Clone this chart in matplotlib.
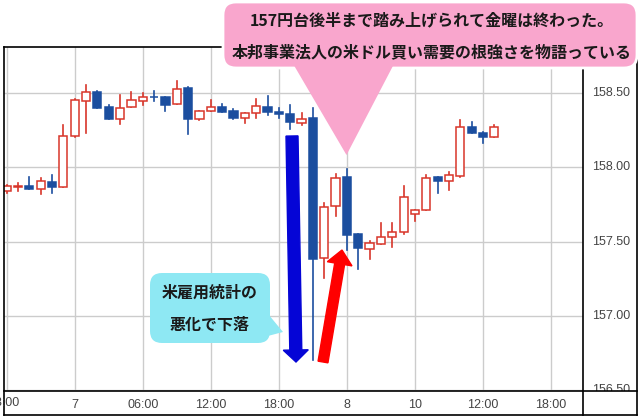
import matplotlib
matplotlib.use('Agg')
import matplotlib.pyplot as plt
from matplotlib.patches import Rectangle, FancyBboxPatch, Polygon, FancyArrow
from matplotlib.lines import Line2D
from matplotlib.transforms import Affine2D, Bbox, TransformedBbox, blended_transform_factory

plt.rcParams['font.family'] = ['Liberation Sans', 'Noto Sans CJK JP', 'DejaVu Sans']

# ---- data (hourly candles) ----
opens = [157.838, 157.868, 157.876, 157.856, 157.899, 157.869, 158.209, 158.449, 158.507, 158.404,
         158.323, 158.404, 158.449, 158.477, 158.472, 158.425, 158.536, 158.327, 158.381, 158.404,
         158.379, 158.330, 158.364, 158.408, 158.373, 158.359, 158.301, 158.330, 157.387, 157.739,
         157.933, 157.551, 157.447, 157.481, 157.532, 157.562, 157.683, 157.712, 157.933, 157.908,
         157.945, 158.270, 158.229, 158.202]
highs = [157.881, 157.892, 157.933, 157.926, 157.948, 158.285, 158.460, 158.555, 158.512, 158.422,
         158.487, 158.505, 158.499, 158.514, 158.472, 158.582, 158.543, 158.379, 158.457, 158.427,
         158.391, 158.364, 158.458, 158.480, 158.398, 158.420, 158.364, 158.398, 157.761, 157.955,
         157.992, 157.551, 157.505, 157.627, 157.623, 157.874, 157.712, 157.948, 157.933, 157.968,
         158.319, 158.303, 158.240, 158.285]
lows = [157.827, 157.842, 157.856, 157.820, 157.829, 157.869, 158.205, 158.233, 158.400, 158.325,
        158.292, 158.404, 158.420, 158.449, 158.381, 158.425, 158.222, 158.319, 158.381, 158.375,
        158.323, 158.296, 158.330, 158.352, 158.330, 158.258, 158.285, 156.701, 157.252, 157.675,
        157.443, 157.313, 157.380, 157.481, 157.461, 157.551, 157.638, 157.712, 157.829, 157.847,
        157.937, 158.229, 158.162, 158.202]
closes = [157.874, 157.872, 157.856, 157.906, 157.867, 158.209, 158.454, 158.505, 158.402, 158.327,
          158.398, 158.454, 158.472, 158.472, 158.422, 158.526, 158.327, 158.379, 158.410, 158.375,
          158.330, 158.364, 158.413, 158.375, 158.357, 158.305, 158.325, 157.382, 157.734, 157.925,
          157.547, 157.454, 157.488, 157.532, 157.562, 157.798, 157.712, 157.926, 157.910, 157.946,
          158.270, 158.229, 158.202, 158.270]

tick_pos = [0, 6, 12, 18, 24, 30, 36, 42, 48]
tick_labels = ['18:00', '7', '06:00', '12:00', '18:00', '8', '10', '12:00', '18:00']
price_ticks = [156.5, 157.0, 157.5, 158.0, 158.5]
note_top = ['157円台後半まで踏み上げられて金曜は終わった。',
            '本邦事業法人の米ドル買い需要の根強さを物語っている']
note_left = ['米雇用統計の', '悪化で下落']

UP = '#d8352a'
DOWN = '#1b4e9f'
GRID = '#cccccc'

W, H = 640, 417
fig = plt.figure(figsize=(W / 100, H / 100), dpi=100)
fig.patch.set_facecolor('white')
# pixel coordinates, origin top-left
px = Affine2D().scale(1 / 100, -1 / 100).translate(0, H / 100) + fig.dpi_scale_trans

L, R, T, B = 3.5, 583, 47, 391
ax = fig.add_axes([L / W, (H - B) / H, (R - L) / W, (B - T) / H])
ax.set_xlim(-0.28, 50.82)
ax.set_ylim(156.493, 158.811)
for s in ax.spines.values():
    s.set_visible(False)

ax.set_xticks(tick_pos)
ax.set_xticklabels([''] + tick_labels[1:], fontsize=9, color='#444444')
ax.set_yticks(price_ticks)
ax.set_yticklabels([])
ax.tick_params(axis='both', length=0)
ax.tick_params(axis='x', pad=6)
ax.grid(True, color=GRID, lw=1)
ax.set_axisbelow(True)
# first time label sits half outside the left edge, as in the source chart
fig.text(3.8, 403, tick_labels[0], transform=px, ha='center', va='center',
         fontsize=9, color='#444444')

bw = 0.72
for i, (o, h, l, c) in enumerate(zip(opens, highs, lows, closes)):
    up = c >= o
    col = UP if up else DOWN
    ax.add_line(Line2D([i, i], [l, h], color=col, lw=1.2, zorder=2))
    ax.add_patch(Rectangle((i - bw / 2, min(o, c)), bw, max(abs(c - o), 0.002),
                           facecolor='white' if up else DOWN, edgecolor=col,
                           lw=1.1, zorder=3))

# right price labels (clipped at plot bottom)
clipbox = TransformedBbox(Bbox([[5.83, (H - B) / 100], [6.40, H / 100]]), fig.dpi_scale_trans)
ytr = blended_transform_factory(px, ax.transData)
for p in price_ticks:
    t = ax.text(592, p, f'{p:.2f}', transform=ytr, ha='left', va='center',
                fontsize=9, color='#444444', clip_on=True)
    t.set_clip_box(clipbox)

# frame lines
for xs, ys in [([L, 637], [T, T]), ([L, 637], [415, 415]), ([L, L], [T, 415]),
               ([637, 637], [T, 415]), ([L, 637], [B, B]), ([R, R], [T, 415])]:
    fig.add_artist(Line2D(xs, ys, color='black', lw=1.2, transform=px, zorder=2))

# arrows
fig.add_artist(FancyArrow(292, 136, 4, 226, width=12, head_width=25, head_length=12,
                          length_includes_head=True, color='#0505d6', transform=px, zorder=4))
fig.add_artist(FancyArrow(323, 362, 19, -112, width=10, head_width=25, head_length=14,
                          length_includes_head=True, color='#ff0000', transform=px, zorder=4))

# pink callout
fig.add_artist(FancyBboxPatch((223, 2), 414, 66, boxstyle='round,pad=0,rounding_size=13',
                              fc='#f9a6cd', ec='white', lw=2, transform=px, zorder=5))
fig.add_artist(Polygon([(292, 62), (395, 62), (346.5, 155)], closed=True, fc='#f9a6cd',
                       ec='none', transform=px, zorder=5.1))
for k, line in enumerate(note_top):
    fig.text(432, 20 + k * 32, line, transform=px, ha='center', va='center',
             fontsize=11.5, fontweight='bold', color='#1a1a1a', zorder=6,
             family=['Noto Sans CJK JP', 'DejaVu Sans'])

# cyan callout
fig.add_artist(FancyBboxPatch((150, 273), 120, 70, boxstyle='round,pad=0,rounding_size=12',
                              fc='#8ee8f3', ec='none', transform=px, zorder=5))
fig.add_artist(Polygon([(264, 309), (283, 332), (264, 337)], closed=True, fc='#8ee8f3',
                       ec='none', transform=px, zorder=5.1))
for k, line in enumerate(note_left):
    fig.text(210, 293 + k * 32, line, transform=px, ha='center', va='center',
             fontsize=11.5, fontweight='bold', color='#1a1a1a', zorder=6,
             family=['Noto Sans CJK JP', 'DejaVu Sans'])

fig.savefig('out.png', dpi=100)
